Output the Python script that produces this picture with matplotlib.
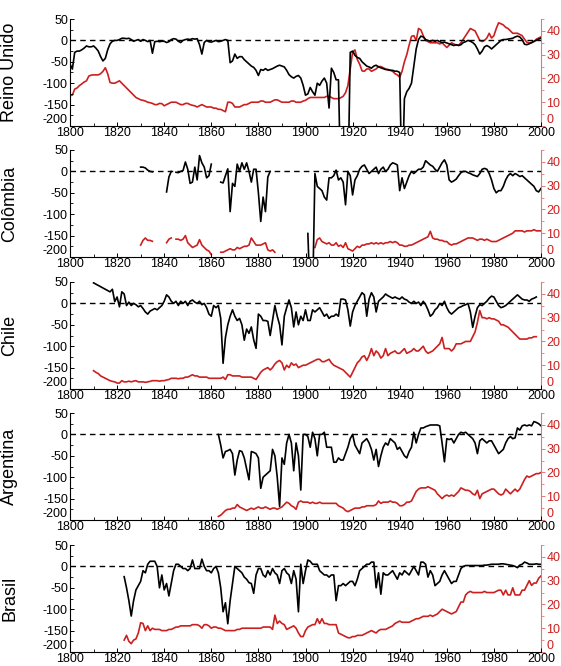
import numpy as np
import matplotlib
matplotlib.use("Agg")
import matplotlib.pyplot as plt
from matplotlib.ticker import MultipleLocator
from matplotlib import font_manager

nan = np.nan

# ---------------- data ----------------
countries = ["Reino Unido", "Colômbia", "Chile", "Argentina", "Brasil"]

# Reino Unido (1800-2000)
uk_start = 1800
uk_black = [
    -55, -67, -28, -25, -25, -22, -18, -13, -15, -15,
    -13, -18, -25, -38, -48, -42, -22, -8, -2, 0,
    0, 2, 5, 5, 4, 5, 2, -2, 0, 2,
    -2, 2, 0, -3, 0, -30, -3, -2, -3, -2,
    -2, -5, -3, 2, 4, 3, -2, -5, 0, 2,
    3, 2, 4, 3, 4, -10, -32, -5, 0, -3,
    -4, -2, 0, -3, -2, 0, 2, 0, -52, -48,
    -32, -42, -38, -38, -45, -50, -55, -60, -63, -70,
    -82, -68, -70, -66, -70, -68, -66, -63, -60, -58,
    -60, -62, -70, -80, -85, -88, -84, -82, -88, -105,
    -128, -125, -110, -120, -128, -100, -105, -95, -88, -100,
    -158, -65, -75, -92, -92, -350, -350, -350, -350, -28,
    -25, -35, -40, -42, -50, -55, -60, -62, -65, -60,
    -58, -62, -64, -66, -68, -68, -70, -70, -72, -72,
    -75, -350, -136, -120, -112, -100, -60, -20, 2, 10,
    8, 2, 0, -2, 0, -2, 0, -3, -5, -4,
    -6, -8, -10, -12, -10, -12, -10, -5, -3, 0,
    -2, -5, -10, -20, -32, -25, -15, -12, -15, -20,
    -15, -10, -5, 0, 2, 2, 3, 4, 5, 8,
    10, 8, 2, -9, -10, -8, -5, -2, 0, 3,
    5,
]
uk_red = [
    12.8, 13, 15.5, 16, 17, 17.7, 18.5, 19, 21, 21.4,
    21.5, 21.5, 21.5, 22, 23, 24.5, 22, 18.3, 18, 18,
    18.5, 19, 18, 17, 16, 15, 14, 13, 12, 11.5,
    11, 10.8, 10.5, 10, 9.8, 9.5, 9, 9, 9.5, 9.4,
    8.5, 9, 9.5, 10, 10, 10, 9.5, 9, 9, 9.5,
    9.5, 9, 8.7, 8.5, 8, 8.5, 9, 8.5, 8, 8,
    8, 7.5, 7.5, 7, 7, 6.5, 6, 10, 10, 9.5,
    8, 8, 8, 8.5, 9, 9, 9.5, 10, 10, 10,
    10, 10.5, 10.5, 10, 10, 10, 10.5, 11, 11, 10.5,
    10, 10, 10, 10, 10.5, 10.5, 10, 10, 10, 10.5,
    10.8, 11.5, 12, 12, 12, 12, 12, 12, 12, 12.5,
    12.5, 12, 11.5, 11.5, 11.5, 11.9, 12.5, 14, 17, 24,
    31, 32, 28, 26, 23.2, 23, 24, 24, 23, 23.5,
    24, 25, 25, 24.5, 24, 23.5, 23.5, 23, 22, 21.5,
    20.5, 23, 27, 30, 34, 37.7, 38, 36, 41, 40.4,
    38, 36, 35.5, 35, 35, 35, 35, 34.5, 35, 34,
    33, 34, 35, 34.5, 34, 34, 35, 36.5, 38, 39.5,
    41, 40.5, 40, 38, 36, 35.5, 36, 37, 39, 37,
    38, 41, 43.4, 43, 42.5, 41.5, 41, 40, 39, 39,
    39, 38.5, 38, 36.5, 35.2, 35, 35, 35.5, 36.5, 37,
    37.5,
]

# Colômbia (1830-2000)
col_start = 1830
col_black = [
    10, 10, 8, 3, 0, -1, nan, nan, nan, nan,
    nan, -48, -13, 0, nan, -2, -3, 0, 2, 22,
    5, -28, -25, 10, -20, 37, 20, 10, -15, -10,
    17, nan, nan, nan, -25, -27, -10, 6, -94, -28,
    -35, 17, 0, 20, 5, 20, 0, -25, 5, 5,
    -50, -117, -60, -94, -13, 0, nan, nan, nan, nan,
    nan, nan, nan, nan, nan, nan, nan, nan, nan, nan,
    nan, -145, -300, -300, -5, -35, -40, -45, -60, -67,
    -15, -15, -10, 3, -20, -15, -25, -78, 0, -10,
    -55, -20, -10, 5, 12, 15, 5, -5, 0, 5,
    10, -5, 5, 10, 0, 5, 15, 20, 18, 15,
    -45, -15, -40, -25, -10, 0, -5, 0, 5, 5,
    10, 25, 20, 15, 12, 5, 0, 10, 20, 27,
    15, -20, -25, -22, -18, -10, -3, 0, 0, -3,
    -5, -8, -10, -12, -5, 5, 7, 5, -5, -20,
    -40, -50, -45, -45, -35, -20, -10, -5, -10, -5,
    -8, -12, -10, -15, -20, -25, -30, -35, -45, -48,
    -40,
]
col_red = [
    5, 7, 8, 7, 7, 6.6, nan, nan, nan, nan,
    nan, 6, 7.5, 8, nan, 7.5, 7.5, 7, 7.5, 9,
    6, 5, 4, 4.5, 5, 7.3, 5, 4, 3, 2.5,
    1, nan, nan, nan, 2, 2, 2.5, 3, 3.5, 3,
    3, 4, 3.5, 4, 4.5, 4.5, 5, 8, 6.5, 5,
    5, 5, 5.5, 6, 3, 2.5, 3, 2, nan, nan,
    nan, nan, nan, nan, nan, nan, nan, nan, nan, nan,
    nan, nan, nan, nan, 4, 7.3, 8, 6.5, 6, 5.5,
    6, 5, 5, 6, 4.5, 5, 4, 6, 3.5, 3,
    2.5, 3.5, 4.5, 4, 5, 5, 5.5, 5.5, 6, 5.5,
    6, 5.5, 6, 5.5, 6, 6, 6.5, 6, 6.5, 6,
    5, 5, 4.5, 4.5, 5, 5, 5.5, 6, 6.5, 7,
    7.5, 8, 8.5, 10.8, 8, 7.5, 7.5, 7, 7, 6.5,
    6.5, 5.5, 5, 5.5, 5.5, 6, 6.5, 7, 7.5, 8,
    8, 8, 7.5, 7, 7.5, 7.5, 7, 7.5, 7, 6.5,
    6.5, 6.5, 7, 7.5, 8, 8.5, 9, 9.5, 10, 11,
    11, 11, 11, 10.5, 11, 11, 11, 11.5, 11, 11,
    11,
]

# Chile (1810-1998)
chi_start = 1810
chi_black = [
    48, 45, 42, 39, 36, 33, 30, 27, 33, 4,
    15, -8, 27, 22, -5, 3, -5, 0, -3, -8,
    -5, -12, -20, -25, -18, -15, -12, -15, -10, -5,
    5, 20, 15, 5, 0, 5, -5, 5, 0, 5,
    -5, 5, 8, 3, 0, 5, -3, 0, -10, -25,
    -30, -5, -10, -5, -35, -140, -80, -50, -30, -15,
    -30, -40, -35, -50, -86, -60, -70, -55, -85, -105,
    -25, -30, -40, -40, -42, -75, -40, -5, -30, -50,
    -97, -30, -10, 8, -10, -55, -20, -50, -30, -40,
    -15, -40, -40, -15, -20, -15, -10, -20, -30, -25,
    -35, -30, -30, -25, -30, 10, 10, 8, -15, -53,
    -20, -5, 5, 15, 25, 20, -30, 10, 25, 15,
    -20, 5, 10, 15, 22, 18, 15, 12, 15, 12,
    10, 15, 10, 8, 3, 0, 5, 0, 3, -5,
    5, -3, -15, -30, -25, -15, -10, 0, -5, 5,
    -10, -20, -25, -20, -15, -10, -8, -5, -3, 0,
    -20, -56, -30, -10, -3, -5, 0, 5, 12, 17,
    15, 5, -5, -10, -8, -5, 0, 5, 10, 15,
    20, 15, 10, 8, 8, 5, 10, 12, 15,
]
chi_red = [
    7.7, 7, 6.5, 5.5, 5, 4.5, 4, 3.5, 3.2, 3,
    2.5, 2.5, 3.5, 3, 3, 3.3, 3, 3.3, 3.5, 3,
    3, 3, 2.8, 3, 3.2, 3.5, 3.5, 3.5, 3.3, 3.5,
    3.5, 3.8, 4, 4.5, 4.5, 4.5, 4.3, 4.5, 4.5, 5,
    5, 5.5, 6, 5.5, 5.5, 5, 5, 5, 5, 4.5,
    4.5, 4.5, 4.5, 4.5, 4.5, 5, 4, 6, 6, 5.5,
    5.5, 5.5, 5.5, 5, 5, 5, 5, 5, 4.5, 4,
    5.5, 7, 8, 8.5, 9, 8, 9, 10.5, 11.5, 12,
    11, 8, 10, 9, 11, 10, 10.5, 9, 9.5, 10,
    10, 10.5, 11, 11.5, 12, 12.5, 12.5, 11.5, 11.5, 12,
    12.5, 11, 10, 9.5, 9, 8.5, 8, 7, 6, 5,
    7, 9, 11, 12, 13.5, 14, 12, 14, 17, 14,
    16, 15, 13, 14, 17, 14, 15, 15.5, 16, 15,
    15, 16, 17, 15, 15.5, 16, 17, 16, 16, 17,
    18, 16, 15, 15.5, 16, 17, 18, 19, 21.7, 17,
    17, 17, 16, 17, 19, 19, 19, 19.5, 20, 20,
    20, 22, 24, 28, 33, 30, 30, 29.5, 30, 29.5,
    29.5, 29, 28.5, 27, 27, 26.5, 26, 25, 24, 23,
    22, 21, 21, 21, 21, 21.5, 21.5, 22, 22,
]

# Argentina (1863-2000)
arg_start = 1863
arg_black = [
    0, -25, -55, -40, -38, -35, -45,
    -95, -60, -38, -40, -55, -80, -106, -40, -42, -45,
    -55, -126, -100, -95, -90, -85, -35, -50, -100, -168,
    -55, -70, -20, 0, -20, -85, -20, -50, -130, 0,
    0, -5, -30, 5, -10, -50, 0, 0, 5, -30,
    -30, -30, -65, -65, -55, -60, -60, -45, -30, -10,
    0, -25, -35, -45, -20, -15, -10, -20, -35, -60,
    -35, -75, -50, -30, -20, -25, -10, -15, -20, -35,
    -30, -40, -50, -55, -40, -30, 5, -20, 0, 15,
    15, 18, 20, 22, 22, 22, 22, 20, -20, -64,
    -10, -12, -10, -20, -10, 0, 5, 3, 5, 0,
    -5, -10, -20, -45, -15, -10, -15, -20, -15, -15,
    -25, -35, -45, -40, -35, -20, -10, -5, -10, -8,
    15, 10, 20, 22, 20, 22, 20, 30, 28, 25,
    20,
]
arg_red = [
    1.5, 2, 3, 4, 4.5, 4.5, 5,
    5, 6.5, 5.5, 5, 4.5, 4, 4.5, 5, 4.5, 5,
    5.5, 5, 5, 5.5, 5, 4.5, 5, 5, 4.5, 5,
    5.5, 6.5, 7.5, 7, 6, 5.5, 4.5, 7.5, 8, 7.5,
    7.5, 7.5, 7, 7.5, 7, 7, 7.5, 7, 7, 7,
    7, 7, 7, 7, 6, 5.5, 5, 4, 3.5, 4,
    4.5, 5, 5, 5, 5.5, 5.5, 6, 6, 6, 6,
    6.5, 8, 7, 7.5, 7.5, 7.5, 8, 7.5, 7.5, 7,
    6, 6, 6.5, 7.5, 7.5, 8, 10, 12, 13, 13.5,
    13.5, 13.5, 14, 13.5, 13, 12.5, 11, 10, 9, 10,
    10.5, 10, 10.5, 10, 11, 12, 13.5, 13, 12.5, 12.5,
    12, 11, 10.5, 12.5, 9, 11, 11.5, 12, 12.5, 13,
    13, 12, 11, 10.5, 11, 13, 12, 11, 12, 13,
    12, 13, 15, 17, 18.5, 18, 18.5, 19, 19.5, 19.5,
    20,
]

# Brasil (1823-2000)
bra_start = 1823
bra_black = [
    -24, -50, -80, -116, -80, -55, -45,
    -35, -10, -15, 5, 12, 12, 12, 0, -50, -20,
    -55, -40, -69, -40, -10, 5, 5, 0, -5, -5,
    -10, -5, 15, -5, -5, -5, 17, 0, -10, -10,
    -15, -5, 0, -15, -50, -106, -85, -134, -80, -40,
    0, -5, -10, -15, -25, -30, -38, -40, -63, -20,
    -5, -5, -20, -25, -10, -20, -5, -15, -20, -40,
    -10, -5, -15, -20, -40, -10, -30, -106, 5, -40,
    -10, 15, 12, 5, 5, 5, -10, -15, -20, -20,
    -25, -20, -20, -80, -45, -45, -40, -45, -40, -35,
    -35, -45, -30, -10, -5, 0, 5, 5, 10, 10,
    -50, -15, -65, -15, -20, -20, -15, -10, -20, -30,
    -15, -20, -10, -15, -20, -10, 0, -10, -20, 10,
    10, 5, -25, -10, -20, -45, -40, -35, -20, -10,
    -20, -30, -40, -35, -35, -20, -5, 0, 2, 2,
    2, 2, 2, 2, 2, 2, 3, 3, 4, 5,
    5, 5, 5, 6, 6, 5, 4, 3, 2, 0,
    -3, 3, 5, 10, 8, 5, 5, 5, 6, 5,
    5,
]
bra_red = [
    5, 7, 4.5, 3.5, 5, 5.5, 8,
    12.3, 12, 9, 11, 9, 10, 9.5, 9.5, 9.5, 9,
    9, 9, 9.5, 9.5, 10, 10.5, 10.5, 11, 11, 11,
    11, 11, 11.5, 11.5, 11.5, 11, 10, 11.5, 11.5, 11,
    10, 10.5, 10.5, 10, 10, 9.5, 9, 9, 9, 9,
    9, 9.5, 9.5, 10, 10, 10, 10, 10, 10, 10,
    10, 10, 10.5, 10.5, 10.5, 10.5, 9.5, 15.5, 12, 13,
    12, 11.5, 9.5, 10, 10.5, 11, 10, 8, 6.5, 6.5,
    9, 10.5, 11, 11.5, 11.5, 14, 12, 14, 12, 12,
    11.5, 11.5, 11.5, 11.5, 8, 7.5, 7, 6.5, 6, 6,
    6.5, 6.5, 7, 7, 7, 7.5, 8, 8.5, 9, 8.5,
    8, 9, 9.5, 9.5, 9.5, 10, 10.5, 11, 12, 12.5,
    13, 12.5, 12.5, 12.5, 12.5, 13, 13.5, 14, 14, 14.5,
    15, 15, 15, 15.5, 15, 15.5, 16, 17, 18, 17.5,
    17, 16.5, 16, 16.5, 17, 19, 21, 21, 24, 25,
    25.5, 25, 25, 25, 25, 25, 25.5, 25, 25, 25,
    25, 25.5, 26, 26, 24, 26, 24, 24, 27, 24,
    24, 24, 26, 26, 28, 30, 28, 29, 29, 31,
    32,
]

series = [
    (uk_start, uk_black, uk_red),
    (col_start, col_black, col_red),
    (chi_start, chi_black, chi_red),
    (arg_start, arg_black, arg_red),
    (bra_start, bra_black, bra_red),
]

xticks = list(range(1800, 2001, 20))
left_ticks = [-200, -150, -100, -50, 0, 50]
right_ticks = [0, 10, 20, 30, 40]

# ---------------- style ----------------
avail = {f.name for f in font_manager.fontManager.ttflist}
fam = [f for f in ["Liberation Sans Narrow", "Liberation Sans", "DejaVu Sans"] if f in avail]
plt.rcParams["font.family"] = fam
plt.rcParams["axes.unicode_minus"] = False

RED = "#cc1f1f"
RED_SPINE = "#e07a7a"
TICK_FS = 9
LABEL_FS = 13

W, H = 561, 666
fig = plt.figure(figsize=(W / 100, H / 100), dpi=100)

left_px, right_px = 70, 541
tops = [19, 150, 282, 413, 545]
h_px = 107

for i, (name, (start, blk, red)) in enumerate(zip(countries, series)):
    top = tops[i]
    ax = fig.add_axes([left_px / W, 1 - (top + h_px) / H,
                       (right_px - left_px) / W, h_px / H])
    ax2 = ax.twinx()
    yb = np.arange(start, start + len(blk))
    yr = np.arange(start, start + len(red))

    ax.axhline(0, color="black", lw=1.0, ls=(0, (4, 3)), zorder=1)
    ax.plot(yb, np.array(blk, dtype=float), color="black", lw=1.2, zorder=3)
    ax2.plot(yr, np.array(red, dtype=float), color=RED, lw=1.2, zorder=2)

    ax.set_xlim(1800, 2000)
    ax.set_ylim(-200, 50)
    ax2.set_ylim(0, 45)
    ax.set_xticks(xticks)
    ax.set_yticks(left_ticks)
    ax2.set_yticks(right_ticks)
    ax.xaxis.set_minor_locator(MultipleLocator(10))
    ax.yaxis.set_minor_locator(MultipleLocator(25))
    ax2.yaxis.set_minor_locator(MultipleLocator(5))

    for a in (ax, ax2):
        a.spines["top"].set_visible(False)
        a.patch.set_visible(False)
    ax.spines["right"].set_visible(False)
    ax2.spines["left"].set_visible(False)
    ax2.spines["bottom"].set_visible(False)
    ax2.spines["right"].set_color(RED_SPINE)
    ax.spines["left"].set_linewidth(0.8)
    ax.spines["bottom"].set_linewidth(0.8)

    ax.tick_params(axis="both", which="major", direction="in", length=3,
                   width=0.7, labelsize=TICK_FS, pad=1.5, colors="black")
    ax.tick_params(axis="both", which="minor", direction="in", length=2, width=0.6)
    ax.tick_params(axis="x", pad=1)
    ax2.tick_params(axis="y", which="major", direction="out", length=3, width=0.7,
                    colors=RED_SPINE, labelcolor=RED, labelsize=TICK_FS, pad=1)
    ax2.tick_params(axis="y", which="minor", direction="out", length=2,
                    width=0.6, colors=RED_SPINE)

    # lift the bottom-most y labels so they sit just above the year labels
    ax.set_yticklabels([str(t) for t in left_ticks])
    ax2.set_yticklabels([str(t) for t in right_ticks])
    ax.get_yticklabels()[0].set_verticalalignment("bottom")
    ax2.get_yticklabels()[0].set_verticalalignment("bottom")

    ax.set_ylabel(name, fontsize=LABEL_FS)
    ax.yaxis.set_label_coords(-0.11, 0.5)
    ax.set_zorder(ax2.get_zorder() + 1)

fig.savefig("out.png", dpi=100)
